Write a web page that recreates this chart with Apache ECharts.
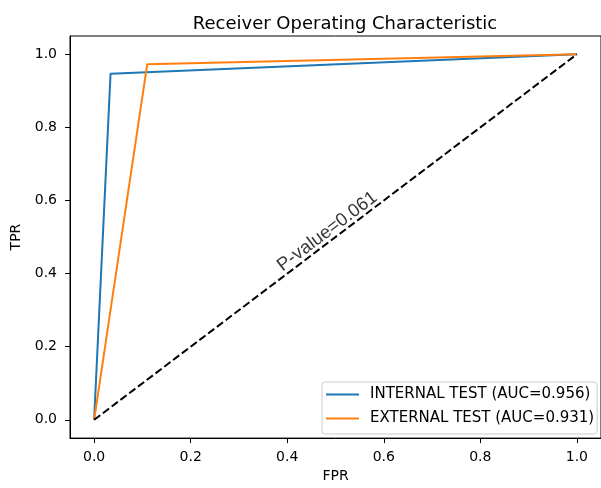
<!DOCTYPE html>
<html>
<head>
<meta charset="utf-8">
<script src="https://cdn.jsdelivr.net/npm/echarts@6/dist/echarts.min.js"></script>
<style>html,body{margin:0;padding:0;background:#fff}#c{width:601px;height:488px}</style>
</head>
<body>
<div id="c"></div>
<script>
const internalFPR = [0.0, 0.034, 1.0];
const internalTPR = [0.0, 0.947, 1.0];
const externalFPR = [0.0, 0.110, 1.0];
const externalTPR = [0.0, 0.973, 1.0];
const chanceFPR = [0.0, 1.0];
const chanceTPR = [0.0, 1.0];
const tickValues = [0.0, 0.2, 0.4, 0.6, 0.8, 1.0];
const seriesNames = ['INTERNAL TEST (AUC=0.956)', 'EXTERNAL TEST (AUC=0.931)'];
const annotationText = 'P-value=0.061';
const annotationPos = [0.483, 0.515];

const zip = (a, b) => a.map((v, i) => [v, b[i]]);
const FONT = 'DejaVu Sans';
const chart = echarts.init(document.getElementById('c'), null, {renderer: 'canvas'});

const axisCommon = {
  type: 'value', min: -0.05, max: 1.05,
  splitLine: {show: false},
  axisLine: {show: true, onZero: false, lineStyle: {color: '#000', width: 1}},
  axisTick: {show: true, inside: false, length: 5, lineStyle: {color: '#000', width: 1}, customValues: tickValues},
  axisLabel: {color: '#000', fontFamily: FONT, fontSize: 14, customValues: tickValues, formatter: v => Number(v).toFixed(1)},
  nameTextStyle: {color: '#000', fontFamily: FONT, fontSize: 14},
  nameLocation: 'middle'
};

const LEGEND_ICON = 'path://M0,0H33V2H0Z';

chart.setOption({
  animation: false,
  backgroundColor: '#fff',
  title: {
    text: 'Receiver Operating Characteristic',
    left: 340, top: 10, textAlign: 'center',
    textStyle: {color: '#000', fontFamily: FONT, fontSize: 18, fontWeight: 'normal'}
  },
  grid: {left: 70, top: 36, width: 539, height: 403, show: true, borderColor: '#000', borderWidth: 1, containLabel: false},
  xAxis: Object.assign({}, axisCommon, {name: 'FPR', nameGap: 30,
    axisLabel: Object.assign({}, axisCommon.axisLabel, {margin: 12})}),
  yAxis: Object.assign({}, axisCommon, {name: 'TPR', nameGap: 45,
    axisLabel: Object.assign({}, axisCommon.axisLabel, {margin: 13})}),
  legend: {
    data: [{name: seriesNames[0], icon: LEGEND_ICON}, {name: seriesNames[1], icon: LEGEND_ICON}],
    orient: 'vertical',
    left: 322, top: 382,
    padding: [5, 3, 8, 4],
    itemWidth: 33, itemHeight: 14, itemGap: 9,
    symbolKeepAspect: true,
    backgroundColor: 'rgba(255,255,255,0.8)',
    borderColor: '#cccccc', borderWidth: 1, borderRadius: 3,
    textStyle: {color: '#000', fontFamily: FONT, fontSize: 15, padding: [0, 0, 0, 6]}
  },
  series: [
    {name: seriesNames[0], type: 'line', data: zip(internalFPR, internalTPR), symbol: 'none',
      lineStyle: {color: '#1f77b4', width: 2}, itemStyle: {color: '#1f77b4'}, z: 2},
    {name: seriesNames[1], type: 'line', data: zip(externalFPR, externalTPR), symbol: 'none',
      lineStyle: {color: '#ff7f0e', width: 2}, itemStyle: {color: '#ff7f0e'}, z: 3},
    {name: 'chance', type: 'line', data: zip(chanceFPR, chanceTPR), symbol: 'none',
      lineStyle: {color: '#000', width: 2, type: [7.7, 3.3]}, z: 4},
    {name: 'annotation', type: 'scatter', data: [annotationPos], symbolSize: 0, silent: true, z: 5,
      label: {show: true, position: 'inside', formatter: annotationText, rotate: 37,
        color: '#000', fontFamily: 'Liberation Sans', fontSize: 18.5}}
  ]
});
</script>
</body>
</html>
